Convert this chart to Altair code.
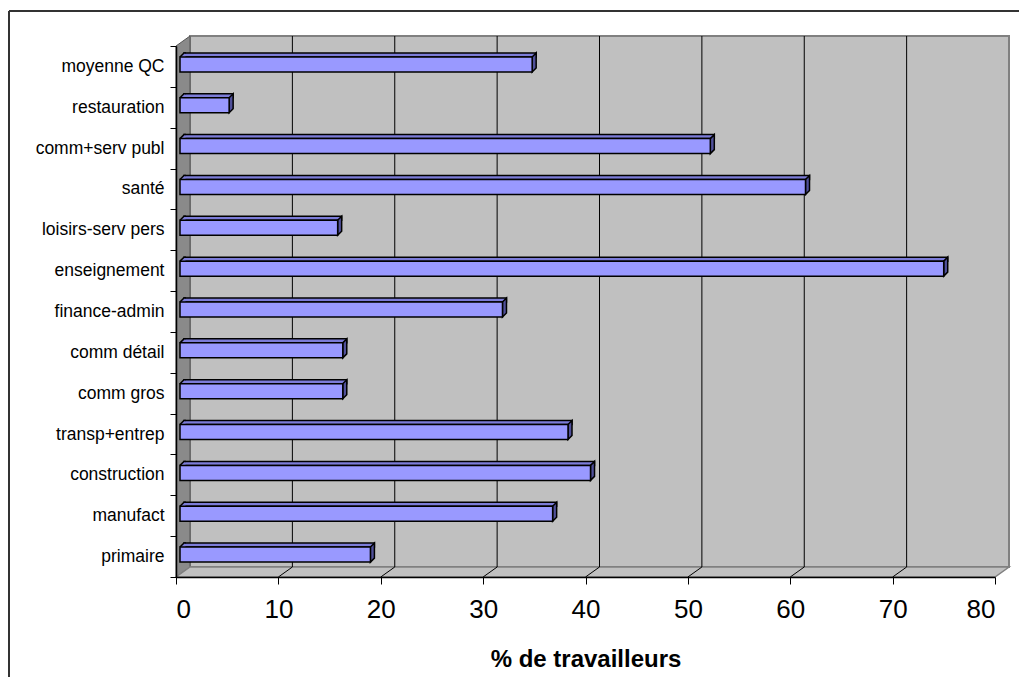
import altair as alt
import pandas as pd

# ---- data ----
categories = [
    "moyenne QC", "restauration", "comm+serv publ", "santé", "loisirs-serv pers",
    "enseignement", "finance-admin", "comm détail", "comm gros", "transp+entrep",
    "construction", "manufact", "primaire",
]
values = [34.4, 4.8, 51.8, 61.1, 15.4, 74.6, 31.5, 15.9, 15.9, 37.9, 40.1, 36.4, 18.6]
x_ticks = [0, 10, 20, 30, 40, 50, 60, 70, 80]
grid_values = [10, 20, 30, 40, 50, 60, 70]
floor_lines = [10, 20, 30, 40, 50, 60, 70]
x_title = "% de travailleurs"

# ---- layout / style ----
W, H = 819, 531
DX, DY = 14, -10
FONT = "Liberation Sans"
FRONT = "#9999FF"
TOP = "#7C7CD8"
SIDE = "#50509A"
WALL = "#C0C0C0"
WALL_EDGE = "#808080"
SIDE_WALL = "#8A8A8A"

df = pd.DataFrame({"cat": categories, "val": values})
one = pd.DataFrame({"k": [0]})

x_scale = alt.Scale(domain=[0, 80], nice=False, zero=True)
y_scale = alt.Scale(domain=categories, paddingInner=0, paddingOuter=0)

x_axis = alt.Axis(
    values=x_ticks, grid=False, tickSize=7, tickColor="black", tickWidth=1,
    domainColor="black", domainWidth=1.5, labelFont=FONT, labelFontSize=26,
    labelColor="black", labelPadding=12, title=x_title, titleFont=FONT,
    titleFontSize=24, titleFontWeight="bold", titleColor="black", titlePadding=25,
    zindex=1,
)
y_axis = alt.Axis(
    grid=False, tickBand="extent", tickSize=6, tickColor="black", tickWidth=1,
    domainColor="black", domainWidth=1.5, labelFont=FONT, labelFontSize=17.5,
    labelColor="black", labelPadding=6, title=None, zindex=1,
)


def XQ(field):
    return alt.X(field, scale=x_scale, axis=x_axis, title=x_title)


def XD(v):
    return alt.X(datum=v, scale=x_scale, axis=x_axis, title=x_title)


Y = alt.Y("cat:N", scale=y_scale, sort=categories, axis=y_axis, title=None)

# back wall
back_wall = alt.Chart(one).mark_rect(
    xOffset=DX, x2Offset=DX, fill=WALL, stroke=WALL_EDGE, strokeWidth=2
).encode(
    x=XD(0), x2=alt.X2(datum=80),
    y=alt.value(DY), y2=alt.value(H + DY),
)

# left side wall (parallelogram)
left_wall = alt.Chart(one).mark_point(
    shape=f"M0,0 L{DX},{DY} L{DX},{H + DY} L0,{H} Z", size=4, filled=True,
    fill=SIDE_WALL, stroke="#555555", strokeWidth=1, opacity=1,
).encode(x=alt.value(0), y=alt.value(0))

# floor (parallelogram)
floor = alt.Chart(one).mark_point(
    shape=f"M0,0 L{DX},{DY} L{W + DX},{DY} L{W},0 Z", size=4, filled=True,
    fill=WALL, stroke=WALL_EDGE, strokeWidth=1.5, opacity=1,
).encode(x=alt.value(0), y=alt.value(H))

# vertical gridlines on back wall
grid = alt.Chart(pd.DataFrame({"g": grid_values})).mark_rule(
    xOffset=DX, color="black", strokeWidth=1
).encode(
    x=XQ("g:Q"),
    y=alt.value(DY), y2=alt.value(H + DY),
)

# diagonal floor lines
diag = alt.Chart(pd.DataFrame({"g": floor_lines})).mark_rule(
    x2Offset=DX, color="black", strokeWidth=1
).encode(
    x=XQ("g:Q"), x2=alt.X2("g:Q"),
    y=alt.value(H), y2=alt.value(H + DY),
)

base = alt.Chart(df)

top_face = base.mark_bar(
    height=4, yOffset=-11.5, xOffset=8, x2Offset=8, fill=TOP, stroke="black",
    strokeWidth=1.5,
).encode(x=XQ("val:Q"), y=Y)

left_tri_fill = base.mark_point(
    shape="M0,0 L4,-4 L5.5,-4 L5.5,0 Z", size=4, filled=True, fill=TOP,
    strokeWidth=0, opacity=1, xOffset=4, yOffset=-9.5,
).encode(x=XD(0), y=Y)

left_tri_line = base.mark_point(
    shape="M0,0 L4,-4 L6,-4", size=4, filled=False, stroke="black",
    strokeWidth=1.5, opacity=1, xOffset=4, yOffset=-9.5,
).encode(x=XD(0), y=Y)

side_face = base.mark_point(
    shape="M0,0 L4,-4 L4,11 L0,15 Z", size=4, filled=True, fill=SIDE,
    stroke="black", strokeWidth=1.5, opacity=1, xOffset=4, yOffset=-9.5,
).encode(x=XQ("val:Q"), y=Y)

front_face = base.mark_bar(
    height=15, yOffset=-2, xOffset=4, x2Offset=4, fill=FRONT, stroke="black",
    strokeWidth=1.5,
).encode(x=XQ("val:Q"), y=Y)

# outer chart border (left and top edges visible)
border_left = alt.Chart(one).mark_rule(color="#333333", strokeWidth=2).encode(
    x=alt.value(-167), y=alt.value(-35), y2=alt.value(700)
)
border_top = alt.Chart(one).mark_rule(color="#333333", strokeWidth=2).encode(
    x=alt.value(-167), x2=alt.value(900), y=alt.value(-35)
)

chart = alt.layer(
    back_wall, left_wall, floor, grid, diag,
    top_face, left_tri_fill, left_tri_line, side_face, front_face,
    border_left, border_top,
).resolve_scale(x="shared", y="shared").properties(
    width=W, height=H,
    padding={"left": 168, "top": 38, "right": 24, "bottom": 100},
    autosize=alt.AutoSizeParams(type="none"),
    background="white",
).configure_view(stroke=None)

chart.save("out.html", embed_options={"renderer": "svg", "actions": False})
